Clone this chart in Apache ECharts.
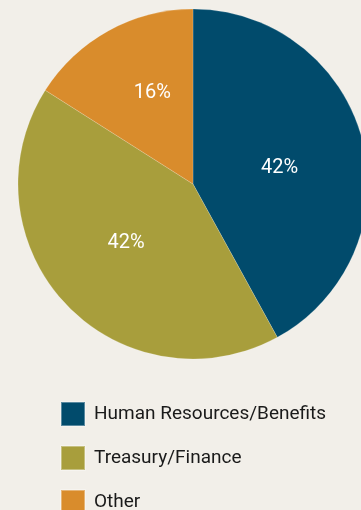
<!DOCTYPE html>
<html>
<head>
<meta charset="utf-8">
<style>
  html, body { margin: 0; padding: 0; background: #f2efe9; }
  #chart { width: 361px; height: 510px; }
</style>
<script src="https://cdn.jsdelivr.net/npm/echarts@6/dist/echarts.min.js"></script>
</head>
<body>
<div id="chart"></div>
<script>
// Share of responses by department
const categories = ['Human Resources/Benefits', 'Treasury/Finance', 'Other'];
const shares = [42, 42, 16];
const colors = ['#014b6c', '#a89e3c', '#d98c2c'];
// nudges for the in-slice percentage labels
const labelOffsets = [[-1, 7], [-1, -3], [3, -12]];

const chart = echarts.init(document.getElementById('chart'), null, { renderer: 'canvas' });

chart.setOption({
  backgroundColor: '#f2efe9',
  animation: false,
  color: colors,
  legend: {
    orient: 'vertical',
    left: 60,
    top: 401,
    height: 200,
    padding: 0,
    itemWidth: 24,
    itemHeight: 24,
    itemGap: 18,
    icon: 'rect',
    selectedMode: false,
    data: categories,
    textStyle: {
      fontFamily: 'Roboto',
      fontSize: 19,
      lineHeight: 24,
      color: '#1a1a1a',
      padding: [0, 0, 0, 4]
    }
  },
  series: [{
    type: 'pie',
    center: [193, 184],
    radius: [0, 175],
    startAngle: 90,
    clockwise: true,
    silent: true,
    itemStyle: { borderColor: 'rgba(255,255,255,0.35)', borderWidth: 0.5 },
    label: {
      show: true,
      position: 'inside',
      formatter: '{c}%',
      color: '#ffffff',
      fontFamily: 'Roboto',
      fontSize: 20
    },
    labelLine: { show: false },
    data: categories.map((name, i) => ({
      name,
      value: shares[i],
      label: { offset: labelOffsets[i] }
    }))
  }]
});
</script>
</body>
</html>
